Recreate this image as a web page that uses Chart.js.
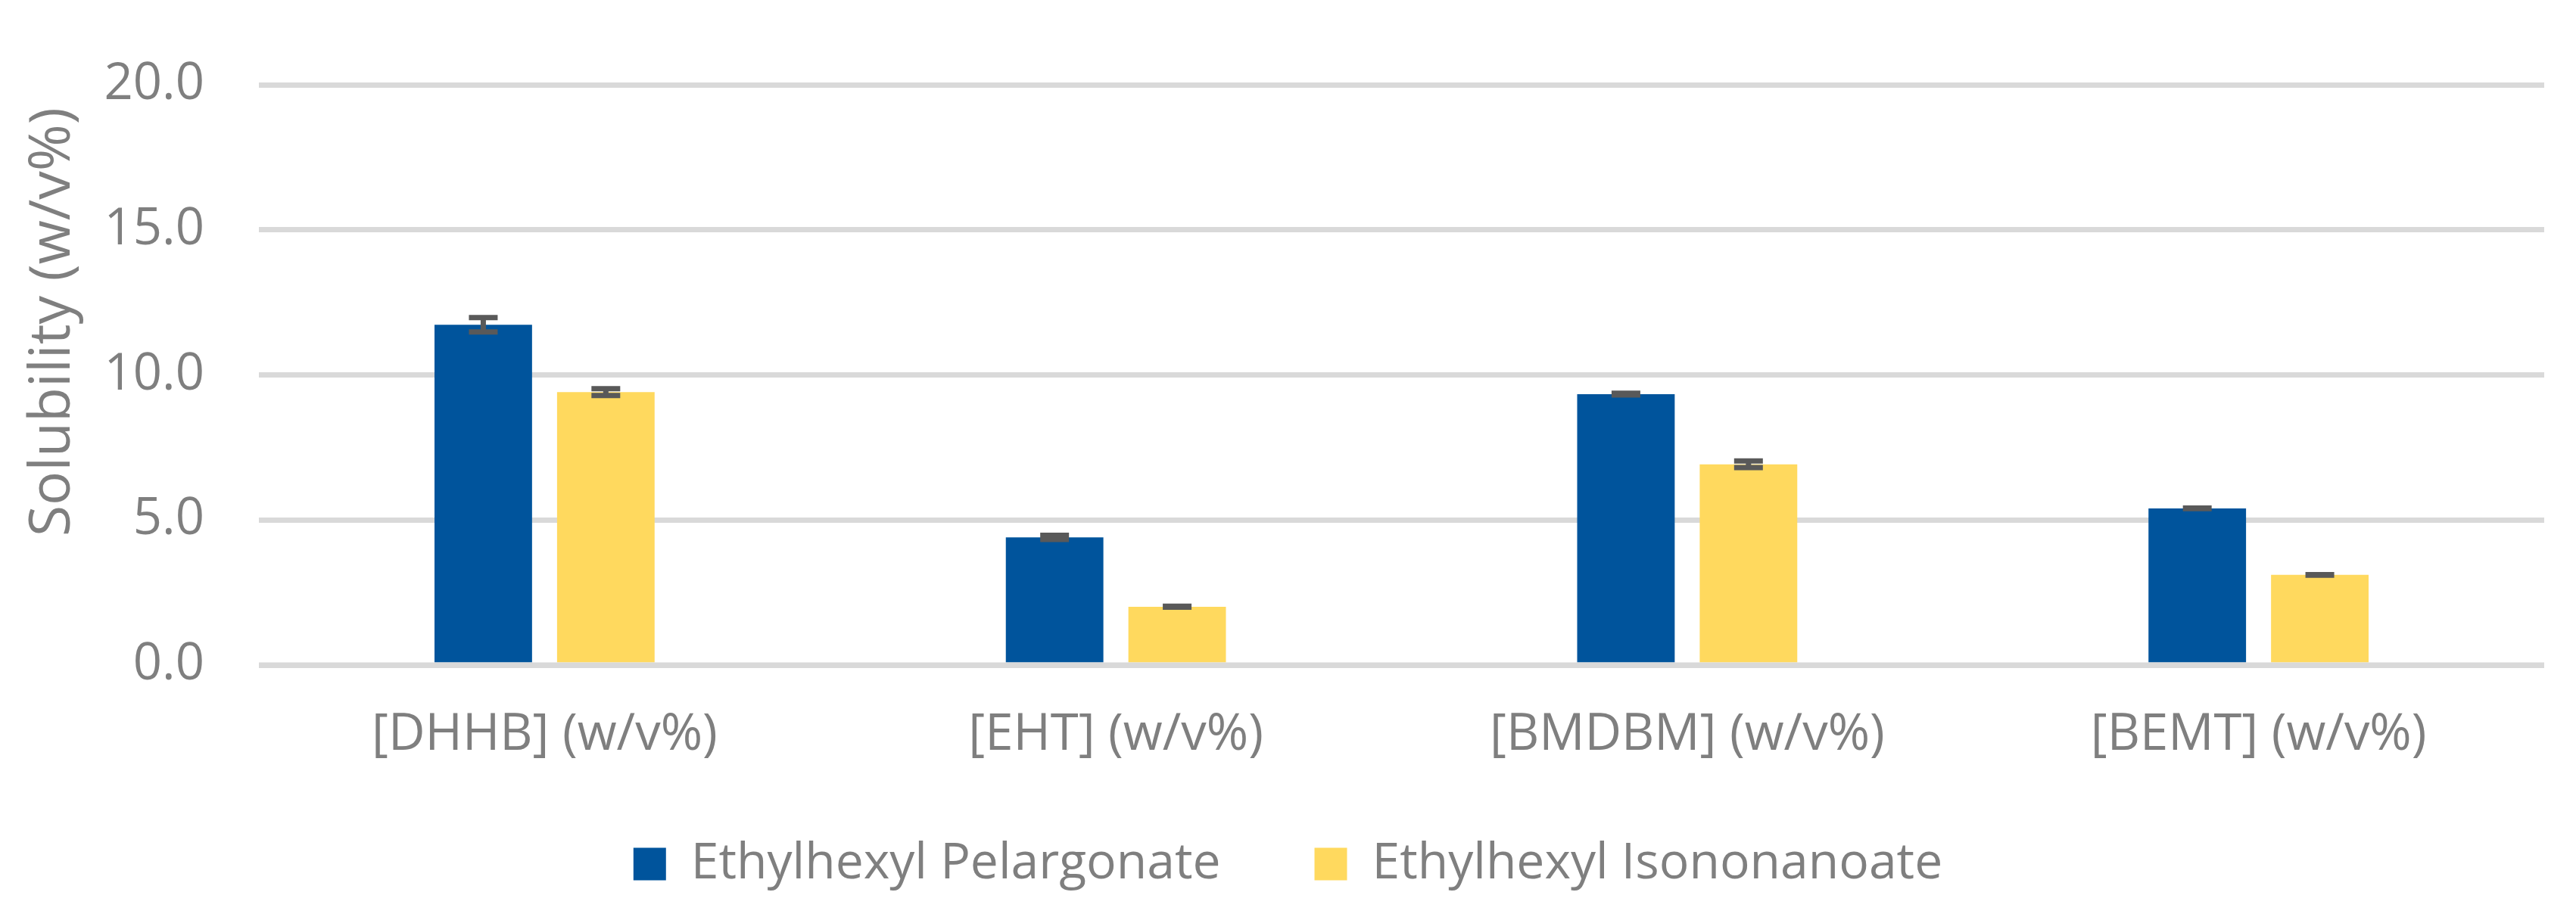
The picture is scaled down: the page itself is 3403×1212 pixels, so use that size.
<!DOCTYPE html>
<html>
<head>
<meta charset="utf-8">
<script src="https://cdn.jsdelivr.net/npm/chart.js@4.4.1/dist/chart.umd.min.js"></script>
<style>
  html, body { margin: 0; padding: 0; background: #fff; }
  canvas { display: block; }
</style>
</head>
<body>
<canvas id="grafico" width="3403" height="1212"></canvas>
<script>
// Datos
const categorias = ["[DHHB] (w/v%)", "[EHT] (w/v%)", "[BMDBM] (w/v%)", "[BEMT] (w/v%)"];
const series = ["Ethylhexyl Pelargonate", "Ethylhexyl Isononanoate"];
const pelargonato = [11.73, 4.40, 9.34, 5.40];
const pelargonatoErr = [0.25, 0.07, 0.03, 0.01];
const isononanoato = [9.41, 2.01, 6.92, 3.11];
const isononanoatoErr = [0.115, 0.015, 0.115, 0.01];
const ticksY = [0, 5, 10, 15, 20];

const gris = "#7f7f7f";

// Barras de error y linea de base encima de las barras
const barrasError = {
  id: "barrasError",
  afterDatasetsDraw(chart) {
    const { ctx, chartArea, scales: { y } } = chart;
    ctx.save();
    const y0 = y.getPixelForValue(0);
    ctx.strokeStyle = "#d9d9d9";
    ctx.lineWidth = 7;
    ctx.beginPath();
    ctx.moveTo(chartArea.left, y0);
    ctx.lineTo(chartArea.right, y0);
    ctx.stroke();

    ctx.strokeStyle = "#595959";
    ctx.lineWidth = 7;
    chart.data.datasets.forEach((ds, i) => {
      chart.getDatasetMeta(i).data.forEach((bar, j) => {
        const v = ds.data[j], e = ds.errores[j];
        const arriba = y.getPixelForValue(v + e);
        const abajo = y.getPixelForValue(v - e);
        ctx.beginPath();
        ctx.moveTo(bar.x, arriba); ctx.lineTo(bar.x, abajo);
        ctx.moveTo(bar.x - 19, arriba); ctx.lineTo(bar.x + 19, arriba);
        ctx.moveTo(bar.x - 19, abajo); ctx.lineTo(bar.x + 19, abajo);
        ctx.stroke();
      });
    });
    ctx.restore();
  }
};

const ctx = document.getElementById("grafico").getContext("2d");
new Chart(ctx, {
  type: "bar",
  data: {
    labels: categorias,
    datasets: [
      { label: series[0], data: pelargonato, errores: pelargonatoErr, backgroundColor: "#00549c" },
      { label: series[1], data: isononanoato, errores: isononanoatoErr, backgroundColor: "#ffd95e" }
    ]
  },
  options: {
    responsive: false,
    animation: false,
    devicePixelRatio: 1,
    categoryPercentage: 0.429,
    barPercentage: 0.796,
    layout: { padding: { top: 58, right: 42, bottom: 27, left: 42 } },
    scales: {
      x: {
        grid: { display: false },
        border: { display: false },
        // mirror evita que las etiquetas se recorten con un eje bajo
        ticks: { color: gris, mirror: true, padding: -133, font: { family: "Open Sans", size: 67 } },
        afterFit(scale) { scale.height = 106; }
      },
      y: {
        min: 0,
        max: 20,
        afterBuildTicks(scale) { scale.ticks = ticksY.map(v => ({ value: v })); },
        grid: { color: "#d9d9d9", lineWidth: 7, drawTicks: false },
        border: { display: false },
        ticks: {
          color: gris,
          padding: 72,
          font: { family: "Open Sans", size: 67 },
          callback: v => v.toFixed(1)
        },
        title: {
          display: true,
          text: "Solubility (w/v%)",
          color: gris,
          padding: { top: 0, bottom: 0 },
          font: { family: "Open Sans", size: 75, weight: "normal", lineHeight: 0.76 }
        },
        afterFit(scale) {
          scale.width = 300;
          // el titulo del original queda algo por encima del centro
          if (!scale._tituloMovido) {
            const dibujar = scale.drawTitle;
            scale.drawTitle = function () {
              this.ctx.save();
              this.ctx.translate(0, -70);
              dibujar.call(this);
              this.ctx.restore();
            };
            scale._tituloMovido = true;
          }
        }
      }
    },
    plugins: {
      legend: {
        position: "bottom",
        labels: {
          color: gris,
          boxWidth: 43,
          boxHeight: 43,
          padding: 124,
          font: { family: "Open Sans", size: 66 }
        }
      },
      tooltip: { enabled: false }
    }
  },
  plugins: [barrasError]
});
</script>
</body>
</html>
